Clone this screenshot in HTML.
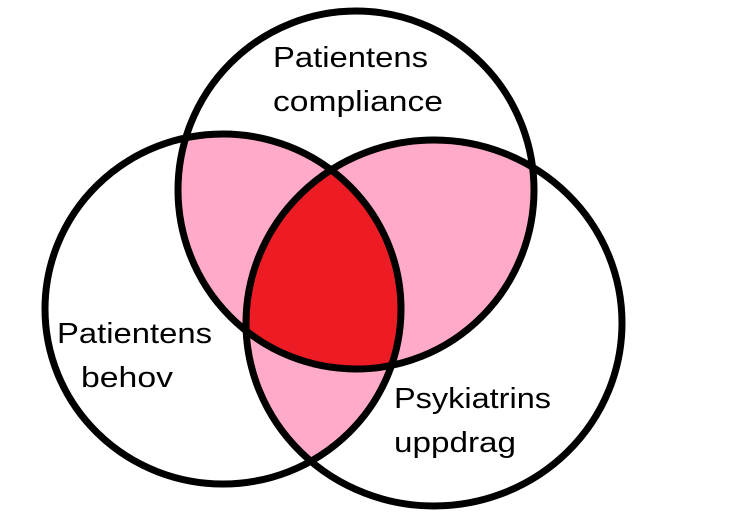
<!DOCTYPE html>
<html><head><meta charset="utf-8"><style>html,body{margin:0;padding:0;background:#fff;width:743px;height:530px;overflow:hidden}</style></head>
<body>
<svg width="743" height="530" viewBox="0 0 743 530" xmlns="http://www.w3.org/2000/svg">
<defs>
<clipPath id="cT"><ellipse cx="356" cy="190" rx="178" ry="179"/></clipPath>
<clipPath id="cL"><ellipse cx="223" cy="309" rx="178" ry="175"/></clipPath>
<clipPath id="cR"><ellipse cx="434" cy="323" rx="188" ry="183"/></clipPath>
</defs>
<g clip-path="url(#cT)"><ellipse cx="223" cy="309" rx="178" ry="175" fill="#ffaac9"/><ellipse cx="434" cy="323" rx="188" ry="183" fill="#ffaac9"/></g>
<g clip-path="url(#cL)"><ellipse cx="434" cy="323" rx="188" ry="183" fill="#ffaac9"/></g>
<g clip-path="url(#cT)"><g clip-path="url(#cL)"><ellipse cx="434" cy="323" rx="188" ry="183" fill="#ed1c24"/></g></g>
<g fill="none" stroke="#000" stroke-width="7">
<ellipse cx="356" cy="190" rx="178" ry="179"/>
<ellipse cx="223" cy="309" rx="178" ry="175"/>
<ellipse cx="434" cy="323" rx="188" ry="183"/>
</g>
<g font-family="Liberation Sans, sans-serif" font-size="29" fill="#000">
<text x="273" y="67" textLength="155" lengthAdjust="spacingAndGlyphs">Patientens</text>
<text x="273" y="111" textLength="170" lengthAdjust="spacingAndGlyphs">compliance</text>
<text x="57" y="343" textLength="155" lengthAdjust="spacingAndGlyphs">Patientens</text>
<text x="81" y="387" textLength="92" lengthAdjust="spacingAndGlyphs">behov</text>
<text x="394" y="408" textLength="157" lengthAdjust="spacingAndGlyphs">Psykiatrins</text>
<text x="394" y="452" textLength="122" lengthAdjust="spacingAndGlyphs">uppdrag</text>
</g>
</svg>
</body></html>
